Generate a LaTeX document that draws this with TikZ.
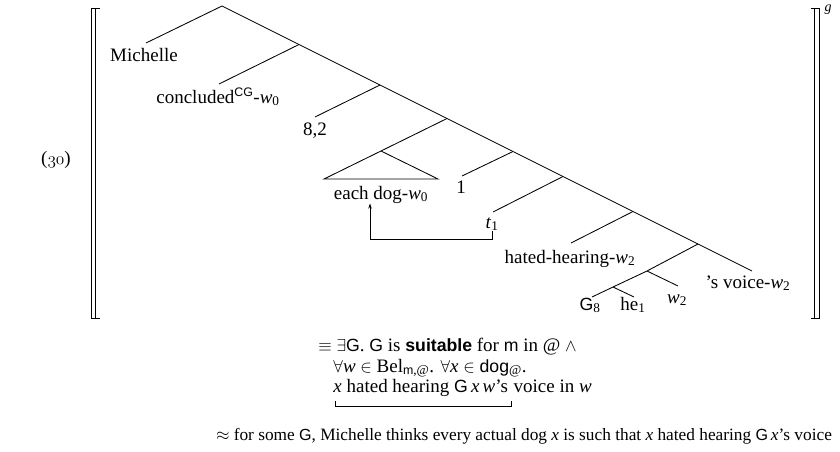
\documentclass[tikz,border=0pt]{standalone}
\usepackage{fontspec}
\setmainfont{Liberation Serif}
\setsansfont[Scale=0.93]{Liberation Sans}
\usetikzlibrary{arrows.meta,calc}
\newcommand\lsub[1]{\textsubscript{#1}}
\newcommand\osn[1]{{\usefont{OML}{cmm}{m}{it}#1}}
\begin{document}
\begin{tikzpicture}[x=1pt,y=-1pt, line width=0.85pt,
  every node/.style={inner sep=0pt, font=\fontsize{19}{23}\selectfont},
  lbl/.style={anchor=base},
  fline/.style={anchor=base west},
  movearrow/.style={line width=0.75pt, -{Stealth[length=5pt,width=3.5pt]}}]
\useasboundingbox (0,0) rectangle (840,452);

% spine coordinates
\coordinate (r)  at (222,6);
\coordinate (n1) at (299,44.5);
\coordinate (n2) at (380,85);
\coordinate (n3) at (447,118.5);
\coordinate (n4) at (513,151.5);
\coordinate (n5) at (563,176.5);
\coordinate (n6) at (633,211.5);
\coordinate (n7) at (698,244);
\coordinate (n8) at (752,271);
% left ends
\coordinate (l0) at (146,43);
\coordinate (l1) at (219,84);
\coordinate (l2) at (315,117);
\coordinate (tri) at (381,151);
\coordinate (tl) at (324,179);
\coordinate (tr) at (438,179);
\coordinate (l4) at (462,176);
\coordinate (l5) at (493,212);
\coordinate (l6) at (571,243);
\coordinate (v)  at (647,271);
\coordinate (g)  at (613,287);
\coordinate (l8a) at (592,297);
\coordinate (l8b) at (634,297);
\coordinate (w2e) at (678,286);

\draw (r) -- (n1) -- (n2) -- (n3) -- (n4) -- (n5) -- (n6) -- (n7) -- (n8);
\draw (r) -- (l0);
\draw (n1) -- (l1);
\draw (n2) -- (l2);
\draw (n3) -- (tri);
\draw (tri) -- (tl) -- (tr) -- cycle;
\draw (n4) -- (l4);
\draw (n5) -- (l5);
\draw (n6) -- (l6);
\draw (n7) -- (v) -- (g) -- (l8a);
\draw (v) -- (w2e);
\draw (g) -- (l8b);

% labels
\node[lbl] (Lmich) at (144,61) {Michelle};
\node[lbl] (Lconc) at (218,103) {concluded\textsuperscript{\textsf{CG}}-\textit{w}\lsub{0}};
\node[lbl] (L82) at (315,135) {8,2};
\node[lbl] (Ldog) at (381,199) {each dog-\textit{w}\lsub{0}};
\node[lbl] (L1) at (461,193) {1};
\node[lbl] (Lt) at (492,228) {\textit{t}\lsub{1}};
\node[lbl] (Lhh) at (570,263) {hated-hearing-\textit{w}\lsub{2}};
\node[lbl] (Lsv) at (748,288) {'s voice-\textit{w}\lsub{2}};
\node[lbl] (Lw) at (677,303) {\textit{w}\lsub{2}};
\node[lbl] (LG) at (590,310) {\textsf{G}\lsub{8}};
\node[lbl] (Lhe) at (633,310) {he\lsub{1}};

% movement arrow
\draw[movearrow] (Lt.south) -- ++(0,8) -| ([xshift=-11pt]Ldog.south);

% brackets
\draw[line width=0.8pt] (100,8) -- (91,8) -- (91,318) -- (100,318);
\draw[line width=0.8pt] (95.3,8) -- (95.3,318);
\draw[line width=0.8pt] (810.7,8) -- (819.3,8) -- (819.3,318) -- (810.7,318);
\draw[line width=0.8pt] (814.6,8) -- (814.6,318);
\node[lbl, font=\fontsize{14}{16}\selectfont] (gsup) at (828,12) {\textit{g}};

\node[lbl] (num) at (56,164) {(\osn{30})};

% formula
\node[fline] (f1) at (318,351) {$\equiv$ $\exists$\textsf{G}. \textsf{G} is \textbf{\textsf{suitable}} for \textsf{m} in @ $\wedge$};
\node[fline] (f2) at (333,372) {$\forall$\textit{w} $\in$ Bel\lsub{\textsf{m},@}. $\forall$\textit{x} $\in$ \textsf{dog}\lsub{@}.};
\node[fline] (f3a) at (333,392) {\textit{x} hated hearing \textsf{G}\,\textit{x}\,\textit{w}'s};
\node[fline] (f3b) at (f3a.base east) {\ voice in \textit{w}};
\draw[line width=0.9pt] ([xshift=2pt,yshift=-4pt]f3a.south west) -- ([xshift=2pt,yshift=-10pt]f3a.south west) -- ([xshift=3pt,yshift=-10pt]f3a.south east) -- ([xshift=3pt,yshift=-4pt]f3a.south east);

\node[lbl, font=\fontsize{17.3}{20}\selectfont] (bot) at (524,440) {$\approx$ for some \textsf{G}, Michelle thinks every actual dog \textit{x} is such that \textit{x} hated hearing \textsf{G}\,\textit{x}'s voice};
\end{tikzpicture}
\end{document}
